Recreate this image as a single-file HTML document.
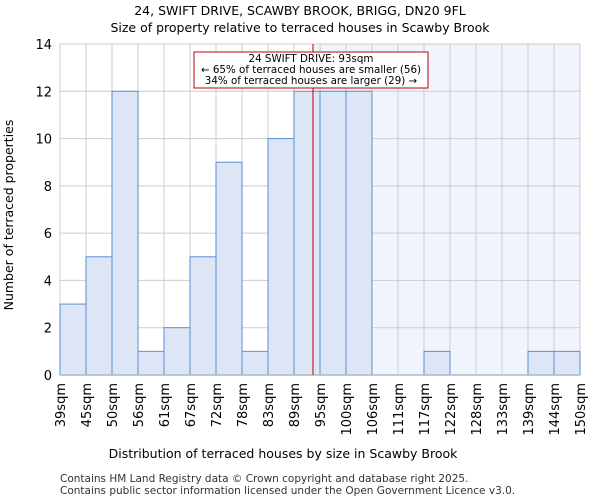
<!DOCTYPE html>
<html><head><meta charset="utf-8"><style>
body{margin:0;background:#fff;font-family:"DejaVu Sans","Liberation Sans",sans-serif;}
</style></head><body>
<svg width="600" height="500" xmlns="http://www.w3.org/2000/svg" id="chart" font-family="DejaVu Sans, Liberation Sans, sans-serif">
<text x="300" y="15" text-anchor="middle" font-size="12.5">24, SWIFT DRIVE, SCAWBY BROOK, BRIGG, DN20 9FL</text>
<text x="300" y="32" text-anchor="middle" font-size="12.5">Size of property relative to terraced houses in Scawby Brook</text>
<g id="plot"></g>
<text x="283" y="458" text-anchor="middle" font-size="12.5">Distribution of terraced houses by size in Scawby Brook</text>
<text transform="translate(13,215) rotate(-90)" text-anchor="middle" font-size="12.5">Number of terraced properties</text>
<text x="60" y="482" font-size="10.5" fill="#333">Contains HM Land Registry data © Crown copyright and database right 2025.</text>
<text x="60" y="494" font-size="10.5" fill="#333">Contains public sector information licensed under the Open Government Licence v3.0.</text>
</svg>
<script>
const categories=["39sqm","45sqm","50sqm","56sqm","61sqm","67sqm","72sqm","78sqm","83sqm","89sqm","95sqm","100sqm","106sqm","111sqm","117sqm","122sqm","128sqm","133sqm","139sqm","144sqm","150sqm"];
const counts=[3,5,12,1,2,5,9,1,10,12,12,12,0,0,1,0,0,0,1,1];
const yTicks=[0,2,4,6,8,10,12,14];
const markerBin=9.73;
const NS="http://www.w3.org/2000/svg";
const L=60,R=580,T=44,B=375,yMax=14;
const bw=(R-L)/counts.length;
const xS=i=>L+i*bw;
const yS=v=>B-(v/yMax)*(B-T);
const g=document.getElementById('plot');
function mk(tag,a){const e=document.createElementNS(NS,tag);for(const k in a)e.setAttribute(k,a[k]);g.appendChild(e);return e;}
const mx=xS(markerBin);
let e=mk('rect',{x:mx,y:T,width:R-mx,height:B-T,fill:'#f0f4fc'});


yTicks.forEach(v=>{
 let l=mk('line',{x1:L,x2:R,y1:yS(v),y2:yS(v),stroke:'#ccc','stroke-width':1});
 
 
 let t=mk('text',{x:L-8,y:yS(v)+5,'text-anchor':'end','font-size':'13'});
 t.textContent=v;
 
 
});
categories.forEach((c,i)=>{
 let l=mk('line',{x1:xS(i),x2:xS(i),y1:T,y2:B,stroke:'#ccc','stroke-width':1});
 
 
 let t=mk('text',{transform:`translate(${xS(i)+5},${B+8}) rotate(-90)`,'text-anchor':'end','font-size':'13'});
 t.textContent=c;
 
 
});
counts.forEach((v,i)=>{
 if(v<=0)return;
 let r=mk('rect',{x:xS(i),y:yS(v),width:bw,height:B-yS(v),fill:'#dce6f4',stroke:'#5b8fd6','stroke-width':1});
 
 
});
e=mk('line',{x1:L,x2:R,y1:B,y2:B,stroke:'#aab8cc','stroke-width':1.5});


e=mk('line',{x1:mx,x2:mx,y1:T,y2:B,stroke:'#c00000','stroke-width':1});


e=mk('rect',{x:194,y:52,width:234,height:36,fill:'#fff',stroke:'#c00000','stroke-width':1});


["24 SWIFT DRIVE: 93sqm","← 65% of terraced houses are smaller (56)","34% of terraced houses are larger (29) →"].forEach((s,k)=>{
 let t=mk('text',{x:311,y:62+k*11,'text-anchor':'middle','font-size':'10.3'});
 t.textContent=s;
 
 
});
</script>
</body></html>
